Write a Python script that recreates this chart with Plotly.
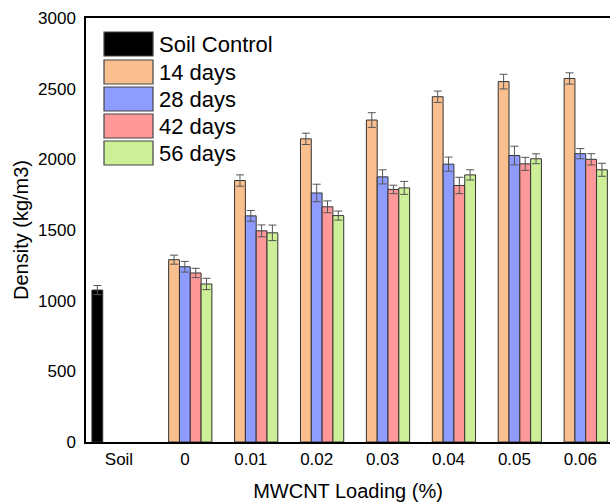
import plotly.graph_objects as go

categories = ["Soil", "0", "0.01", "0.02", "0.03", "0.04", "0.05", "0.06"]
loadings = ["0", "0.01", "0.02", "0.03", "0.04", "0.05", "0.06"]

soil_value = [1075]
soil_err = [32]

d14 = [1290, 1850, 2145, 2278, 2443, 2550, 2572]
d14_err = [32, 40, 40, 52, 40, 52, 40]
d28 = [1240, 1600, 1762, 1876, 1966, 2027, 2040]
d28_err = [38, 38, 62, 50, 50, 66, 36]
d42 = [1196, 1494, 1664, 1787, 1815, 1968, 2000]
d42_err = [33, 42, 42, 30, 58, 46, 40]
d56 = [1118, 1480, 1602, 1798, 1890, 2004, 1926]
d56_err = [40, 55, 32, 46, 36, 35, 46]

series_names = ["Soil Control", "14 days", "28 days", "42 days", "56 days"]
colors = ["#000000", "#F9BF8F", "#8F9CFF", "#FF9999", "#CCEF97"]

FONT = "Arial, Liberation Sans, sans-serif"

fig = go.Figure()
all_x = [["Soil"], loadings, loadings, loadings, loadings]
all_y = [soil_value, d14, d28, d42, d56]
all_e = [soil_err, d14_err, d28_err, d42_err, d56_err]
for name, c, xs, ys, es in zip(series_names, colors, all_x, all_y, all_e):
    fig.add_trace(go.Bar(
        name=name, x=xs, y=ys,
        marker=dict(color=c, line=dict(color="#333333", width=1)),
        error_y=dict(type="data", array=es, visible=True, color="#555555",
                     thickness=1, width=4),
        showlegend=False,
    ))

# plot area geometry (pixels)
L, R, T, B = 86, 610, 18, 442
W, H = R - L, B - T

def px(x):
    return (x - L) / W

def py(y):
    return (B - y) / H

# custom legend (large swatches as in the reference)
leg_tops = [32, 60, 87, 114, 141]
sw_h = 24
for name, c, top in zip(series_names, colors, leg_tops):
    fig.add_shape(type="rect", xref="paper", yref="paper",
                  x0=px(104), x1=px(153), y0=py(top + sw_h), y1=py(top),
                  fillcolor=c, line=dict(color="#444444", width=1.2))
    fig.add_annotation(xref="paper", yref="paper", x=px(157), y=py(top + sw_h / 2),
                       text=name, showarrow=False, xanchor="left", yanchor="middle",
                       font=dict(family=FONT, size=22, color="#000000"))

fig.update_layout(
    width=610, height=504,
    margin=dict(l=L, r=610 - R, t=T, b=504 - B),
    paper_bgcolor="white", plot_bgcolor="white",
    barmode="group", bargap=0.18, bargroupgap=0,
    font=dict(family=FONT, color="#000000"),
    xaxis=dict(
        type="category", categoryorder="array", categoryarray=categories,
        range=[-0.5, 7.45], showline=True, linecolor="#000000", linewidth=1.5,
        mirror=True, ticks="", showgrid=False, zeroline=False, automargin=False,
        tickfont=dict(family=FONT, size=17), ticklabelstandoff=1,
        title=dict(text="MWCNT Loading (%)", font=dict(family=FONT, size=20), standoff=16),
    ),
    yaxis=dict(
        range=[0, 3000], tickvals=[0, 500, 1000, 1500, 2000, 2500, 3000],
        showline=True, linecolor="#000000", linewidth=1.5, mirror=False,
        ticks="", showgrid=False, zeroline=False, automargin=False,
        tickfont=dict(family=FONT, size=17), ticklabelstandoff=5,
        title=dict(text="Density (kg/m3)", font=dict(family=FONT, size=20), standoff=4),
    ),
)

fig.write_html("out.html", config={"displayModeBar": False},
               post_script="document.body.style.margin='0';document.body.style.overflow='hidden';")
